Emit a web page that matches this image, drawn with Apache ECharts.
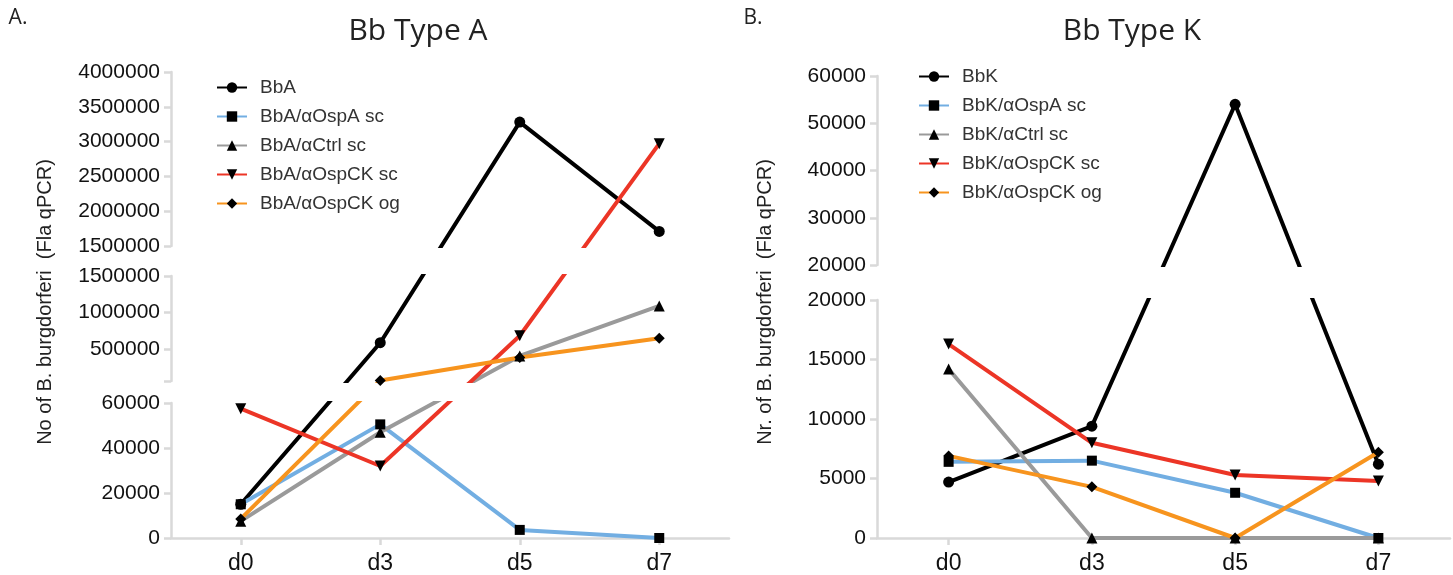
<!DOCTYPE html>
<html><head><meta charset="utf-8">
<script src="https://cdn.jsdelivr.net/npm/echarts@6/dist/echarts.min.js"></script>
<style>html,body{margin:0;padding:0;background:#fff}#c{width:1453px;height:575px}</style>
</head><body><div id="c"></div>
<script>
// ---------- data ----------
const days = ['d0', 'd3', 'd5', 'd7'];

const namesA = ['BbA', 'BbA/αOspA sc', 'BbA/αCtrl sc', 'BbA/αOspCK sc', 'BbA/αOspCK og'];
const bbA        = [15000, 585000, 3280000, 1710000];
const bbAOspA    = [15000, 50500, 3600, 0];
const bbACtrl    = [7500, 47000, 404000, 1090000];
const bbAOspCKsc = [57500, 32000, 680000, 2970000];
const bbAOspCKog = [8500, 68000, 382000, 645000];

const namesK = ['BbK', 'BbK/αOspA sc', 'BbK/αCtrl sc', 'BbK/αOspCK sc', 'BbK/αOspCK og'];
const bbK        = [4700, 9400, 54000, 6200];
const bbKOspA    = [6400, 6500, 3800, 0];
const bbKCtrl    = [14200, 0, 0, 0];
const bbKOspCKsc = [16300, 8000, 5300, 4800];
const bbKOspCKog = [6900, 4300, 0, 7200];

// tick values of each axis segment
const ticksALow = [0, 20000, 40000, 60000];
const ticksAMid = [500000, 1000000, 1500000];
const ticksATop = [1500000, 2000000, 2500000, 3000000, 3500000, 4000000];
const ticksKLow = [0, 5000, 10000, 15000, 20000];
const ticksKTop = [20000, 30000, 40000, 50000, 60000];

// ---------- layout / style ----------
const segA = [
  {min: 0, max: 60000, top: 403, bottom: 539, ticks: ticksALow, tickMarks: ticksALow},
  {min: 60000, max: 1500000, top: 276, bottom: 381, ticks: ticksAMid, tickMarks: [60000].concat(ticksAMid)},
  {min: 1500000, max: 4000000, top: 72, bottom: 246, ticks: ticksATop, tickMarks: ticksATop}
];
const segK = [
  {min: 0, max: 20000, top: 300, bottom: 539, ticks: ticksKLow, tickMarks: ticksKLow},
  {min: 20000, max: 60000, top: 76, bottom: 265, ticks: ticksKTop, tickMarks: ticksKTop}
];
const colors = ['#000000', '#72aee2', '#9a9a9a', '#ec3526', '#f7941e'];
const symbols = [
  {symbol: 'circle', size: 11, rot: 0},
  {symbol: 'rect', size: 10, rot: 0},
  {symbol: 'triangle', size: 11, rot: 0},
  {symbol: 'triangle', size: 11, rot: 180},
  {symbol: 'diamond', size: 11, rot: 0}
];
const AXIS_COLOR = '#d9d9d9';
const LABEL_FONT = 'Liberation Sans';

// piecewise (broken) axis: screen position of a value, then the equivalent
// value on one segment's own linear axis so that lines stay straight across breaks
function pixelOf(segs, v) {
  for (let i = 0; i < segs.length; i++) {
    const s = segs[i];
    if (v <= s.max || i === segs.length - 1) {
      return s.bottom - (v - s.min) / (s.max - s.min) * (s.bottom - s.top);
    }
  }
}
function valueOnSeg(segs, seg, v) {
  const p = pixelOf(segs, v);
  return seg.min + (seg.bottom - p) / (seg.bottom - seg.top) * (seg.max - seg.min);
}

const grids = [], xAxes = [], yAxes = [], series = [];

function buildPanel(segs, left, width, names, dataSets) {
  segs.forEach((seg, si) => {
    const gi = grids.length;
    grids.push({left: left, width: width, top: seg.top, height: seg.bottom - seg.top, containLabel: false});
    const isBottom = si === 0;
    xAxes.push({
      gridIndex: gi, type: 'category', data: days, boundaryGap: true, show: isBottom,
      axisLine: {show: isBottom, lineStyle: {color: AXIS_COLOR, width: 2.5}},
      axisTick: {show: isBottom, alignWithLabel: true, length: 7, lineStyle: {color: AXIS_COLOR, width: 2.5}},
      axisLabel: {show: isBottom, fontSize: 23, color: '#111', fontFamily: LABEL_FONT, margin: 14},
      splitLine: {show: false}
    });
    yAxes.push({
      gridIndex: gi, type: 'value', min: seg.min, max: seg.max,
      axisLine: {show: true, onZero: false, lineStyle: {color: AXIS_COLOR, width: 2.5}},
      axisTick: {show: true, length: 7, customValues: seg.tickMarks, lineStyle: {color: AXIS_COLOR, width: 2.5}},
      axisLabel: {show: true, customValues: seg.ticks, fontSize: 21, color: '#111', fontFamily: LABEL_FONT, margin: 11,
        formatter: v => String(v)},
      splitLine: {show: false}
    });
    dataSets.forEach((vals, k) => {
      series.push({
        type: 'line', name: names[k], xAxisIndex: gi, yAxisIndex: gi,
        data: vals.map(v => valueOnSeg(segs, seg, v)),
        symbol: symbols[k].symbol, symbolSize: symbols[k].size, symbolRotate: symbols[k].rot,
        showAllSymbol: true, clip: true, silent: true,
        lineStyle: {color: colors[k], width: 4},
        itemStyle: {color: '#000'},
        emphasis: {disabled: true}
      });
    });
  });
}

buildPanel(segA, 171, 558, namesA, [bbA, bbAOspA, bbACtrl, bbAOspCKsc, bbAOspCKog]);
buildPanel(segK, 877, 573, namesK, [bbK, bbKOspA, bbKCtrl, bbKOspCKsc, bbKOspCKog]);

function legendAt(names, left, top) {
  return {
    data: names, orient: 'vertical', left: left, top: top, itemWidth: 30, itemHeight: 13, itemGap: 10,
    selectedMode: false,
    textStyle: {fontSize: 19, color: '#333', fontFamily: LABEL_FONT, padding: [0, 0, 0, 8]}
  };
}

function txt(x, y, text, size, family, rot) {
  return {
    type: 'text', x: x, y: y, rotation: rot || 0, silent: true,
    style: {text: text, font: size + 'px "' + family + '"', fill: '#222',
      align: 'center', verticalAlign: 'middle', textAlign: 'center', textVerticalAlign: 'middle'}
  };
}

const chart = echarts.init(document.getElementById('c'), null, {renderer: 'canvas'});
chart.setOption({
  animation: false,
  backgroundColor: '#fff',
  grid: grids, xAxis: xAxes, yAxis: yAxes, series: series,
  legend: [legendAt(namesA, 211, 73), legendAt(namesK, 913, 62)],
  graphic: [
    txt(18, 18, 'A.', 21, 'Open Sans'),
    txt(418, 31, 'Bb Type A', 30, 'Open Sans'),
    txt(753, 18, 'B.', 21, 'Open Sans'),
    txt(1132, 31, 'Bb Type K', 30, 'Open Sans'),
    txt(45, 302, 'No of B. burgdorferi  (Fla qPCR)', 20, LABEL_FONT, Math.PI / 2),
    txt(765, 302, 'Nr. of B. burgdorferi  (Fla qPCR)', 20, LABEL_FONT, Math.PI / 2)
  ]
});
</script></body></html>
